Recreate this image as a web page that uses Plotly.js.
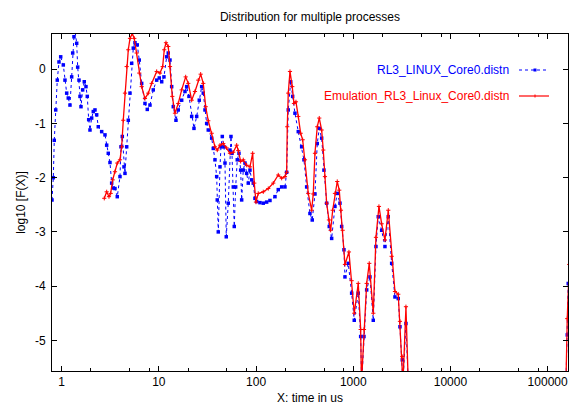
<!DOCTYPE html>
<html>
<head>
<meta charset="utf-8">
<script src="https://cdn.plot.ly/plotly-3.0.1.min.js"></script>
<style>html,body{margin:0;padding:0;background:#fff;}#chart{width:571px;height:407px;}</style>
</head>
<body>
<div id="chart"></div>
<script>
var blueName = "RL3_LINUX_Core0.distn";
var redName = "Emulation_RL3_Linux_Core0.distn";
var chartTitle = "Distribution for multiple processes";
var xTitle = "X: time in us";
var yTitle = "log10 [F(X)]";
var xTickVals = [1, 10, 100, 1000, 10000, 100000];
var xTickText = ["1", "10", "100", "1000", "10000", "100000"];
var yTickVals = [0, -1, -2, -3, -4, -5];
var yTickText = ["0", "-1", "-2", "-3", "-4", "-5"];

var blueX = [0.795,0.820,0.839,0.868,0.901,0.938,0.977,1.039,1.081,1.126,
1.169,1.217,1.267,1.298,1.338,1.370,1.427,1.461,1.507,1.543,
1.580,1.644,1.708,1.778,1.834,1.896,1.955,2.035,2.114,2.201,
2.292,2.380,2.579,2.790,2.904,3.016,3.140,3.268,3.395,3.535,
3.733,3.979,4.075,4.203,4.375,4.480,4.665,4.845,5.044,5.251,
5.453,5.677,5.995,6.286,6.653,7.194,7.598,8.099,8.759,9.493,
10.10,10.69,11.28,12.03,12.49,13.01,13.54,14.07,14.99,15.83,
17.16,18.56,19.32,20.40,21.76,22.97,24.49,26.04,27.56,28.63,
29.81,31.03,32.23,34.93,36.28,37.77,39.33,39.89,40.85,42.53,
43.55,44.92,46.76,47.88,49.37,51.76,53.89,55.18,56.51,58.27,
59.67,61.68,64.07,66.70,69.44,71.11,73.85,76.89,80.05,83.15,
86.55,90.12,93.59,97.43,101.4,109.7,118.6,128.5,139.0,156.5,
169.2,183.4,198.3,206.4,214.4,227.0,237.9,251.3,271.8,294.5,
311.0,331.6,358.4,378.5,403.6,426.2,446.9,473.1,499.4,532.5,
566.4,599.5,648.1,684.4,730.0,760.0,802.4,821.6,888.3,962.7,
1024,1126,1192,1220,1289,1374,1485,1607,1712,1808,
1960,2119,2292,2484,2685,2904,3024,3193,3246,3485,
3680,154300,159100,162900,173600];
var blueY = [-2.41,-2.0,-1.31,-0.75,-0.2,0.135,0.23,0.08,-0.2,-0.44,
-0.53,-0.66,-0.14,0.3,0.6,0.72,0.48,0.04,-0.2,-0.5,
-0.69,-0.38,-0.23,-0.32,-0.5,-0.93,-1.12,-0.9,-0.78,-0.75,
-0.84,-1.06,-1.15,-1.21,-1.40,-1.55,-1.72,-2.1,-2.19,-2.2,
-2.35,-1.98,-1.43,-1.24,-1.8,-1.92,-1.43,-0.94,-0.44,0.11,
0.39,0.49,0.45,0.17,-0.26,-0.63,-0.74,-0.66,-0.38,-0.2,
-0.16,-0.23,-0.14,0.23,0.30,0.17,-0.32,-0.69,-0.94,-0.75,
-0.57,-0.41,-0.32,-0.5,-0.87,-1.09,-0.87,-0.57,-0.32,-0.44,
-0.75,-1.0,-1.12,-1.27,-1.46,-1.67,-1.98,-2.41,-3.0,-1.8,
-1.43,-1.24,-1.43,-1.73,-3.09,-2.47,-1.49,-1.24,-1.55,-2.17,
-2.9,-2.17,-1.67,-1.55,-1.86,-2.41,-1.86,-1.73,-1.92,-2.1,
-1.86,-2.04,-2.1,-2.38,-2.44,-2.46,-2.47,-2.45,-2.42,-2.35,
-2.22,-2.17,-2.17,-1.9,-0.75,-0.23,-0.5,-0.81,-1.15,-1.43,
-1.67,-2.17,-2.66,-2.78,-2.3,-1.37,-1.09,-1.27,-1.86,-2.47,
-2.9,-3.12,-2.53,-2.29,-2.47,-2.9,-3.33,-3.83,-3.58,-4.13,
-4.63,-4.13,-4.93,-5.8,-4.93,-4.07,-3.83,-4.63,-3.27,-2.72,
-2.97,-3.27,-2.72,-3.58,-4.2,-4.23,-4.75,-5.36,-5.8,-4.69,
-5.8,-5.8,-4.9,-3.95,-3.5];

var redX = [2.744,2.904,3.066,3.192,3.347,3.535,3.733,3.979,4.142,4.302,
4.480,4.665,4.845,5.044,5.325,5.583,5.909,6.286,6.653,7.194,
7.780,8.433,9.493,10.26,10.94,11.36,11.83,12.49,13.01,13.74,
14.64,15.83,17.16,18.87,20.07,21.76,23.52,25.43,26.92,28.63,
30.31,32.23,34.93,37.77,39.89,42.53,45.98,49.84,53.89,58.27,
63.15,65.61,69.44,73.85,80.05,86.55,92.25,95.83,99.77,105.3,
118.6,133.5,150.3,169.2,183.4,198.3,206.4,209.4,214.4,223.3,
235.7,245.4,257.3,271.8,287.6,301.6,318.5,344.4,373.3,387.7,
403.6,426.2,446.9,473.1,491.3,511.4,532.5,562.3,585.5,614.0,
648.1,684.4,717.8,747.3,778.0,821.6,903.0,962.7,1024,1126,
1192,1214,1289,1374,1461,1607,1712,1838,1960,2119,
2292,2484,2685,2904,3024,3193,3246,3485,3680,154300,
159100,166800,173600];
var redY = [-2.38,-2.26,-2.35,-2.29,-2.04,-1.89,-1.73,-1.67,-1.43,-0.94,
-0.44,0.05,0.36,0.57,0.66,0.57,0.30,-0.07,-0.32,-0.54,
-0.44,-0.26,-0.04,-0.07,0.05,0.36,0.49,0.42,0.05,-0.5,
-0.81,-0.63,-0.38,-0.14,-0.26,-0.57,-0.41,-0.2,-0.09,-0.26,
-0.69,-0.95,-1.18,-1.43,-1.49,-1.4,-1.37,-1.45,-1.55,-1.53,
-1.40,-1.5,-1.70,-1.67,-1.77,-1.8,-1.55,-2.1,-2.45,-2.29,
-2.26,-2.2,-2.1,-1.95,-2.01,-1.98,-1.9,-1.06,-0.44,-0.04,
-0.32,-0.63,-0.6,-0.87,-1.18,-1.3,-1.67,-2.29,-2.6,-2.3,
-1.55,-1.06,-0.9,-1.12,-1.49,-1.98,-2.47,-2.78,-2.97,-2.6,
-2.29,-2.07,-2.23,-2.6,-2.97,-3.6,-3.37,-3.9,-4.5,-3.95,
-4.8,-5.8,-4.8,-3.95,-3.58,-4.5,-3.1,-2.53,-2.85,-3.15,
-2.6,-3.45,-4.1,-4.15,-4.65,-5.3,-5.8,-4.38,-5.8,-5.8,
-4.6,-3.6,-3.2];

var minorTicks = [];
[1, 10, 100, 1000, 10000, 100000].forEach(function (d) {
  [2, 5, 8].forEach(function (m) { minorTicks.push(d * m); });
});

var FONT = "Liberation Sans, Arial, Helvetica, sans-serif";
var L = 52, R = 568, T = 34, B = 371, W = 571, H = 407;
function px(x) { return (x - L) / (R - L); }
function py(y) { return (B - y) / (B - T); }

var traces = [
  { x: blueX, y: blueY, type: "scatter", mode: "lines+markers", name: blueName,
    line: { color: "#0000ff", width: 1, dash: "dot" },
    marker: { symbol: "square", size: 3.5, color: "#0000ff" }, cliponaxis: true },
  { x: redX, y: redY, type: "scatter", mode: "lines+markers", name: redName,
    line: { color: "#ff0000", width: 1.3 },
    marker: { symbol: "cross-thin", size: 3, color: "#ff0000", line: { color: "#ff0000", width: 1 } }, cliponaxis: true }
];

var axisCommon = {
  showline: true, linecolor: "#000", linewidth: 1, mirror: "ticks",
  ticks: "inside", ticklen: 5, tickcolor: "#000", tickwidth: 1,
  showgrid: false, zeroline: false,
  tickfont: { family: FONT, size: 12, color: "#000" }
};

var layout = {
  width: W, height: H,
  margin: { l: L, r: W - R, t: T, b: H - B, pad: 0 },
  paper_bgcolor: "#fff", plot_bgcolor: "#fff",
  showlegend: false,
  font: { family: FONT, size: 12, color: "#000" },
  title: { text: chartTitle, font: { family: FONT, size: 12, color: "#000" },
           xref: "paper", x: 0.5, xanchor: "center", yref: "container", y: 1 - 17 / H, yanchor: "middle" },
  xaxis: Object.assign({}, axisCommon, {
    type: "log", range: [Math.log10(0.795), Math.log10(162000)],
    tickmode: "array", tickvals: xTickVals, ticktext: xTickText,
    minor: { tickmode: "array", tickvals: minorTicks, ticks: "inside", ticklen: 3, tickcolor: "#000", showgrid: false },
    title: { text: xTitle, font: { family: FONT, size: 12, color: "#000" }, standoff: 5 }
  }),
  yaxis: Object.assign({}, axisCommon, {
    range: [-5.566, 0.651],
    tickmode: "array", tickvals: yTickVals, ticktext: yTickText,
    ticklabelstandoff: 3,
    title: { text: yTitle, font: { family: FONT, size: 12, color: "#000" }, standoff: 6 }
  }),
  annotations: [
    { xref: "paper", yref: "paper", x: px(511), y: py(70), xanchor: "right", yanchor: "middle",
      text: blueName, showarrow: false, font: { family: FONT, size: 12, color: "#0000ff" } },
    { xref: "paper", yref: "paper", x: px(511), y: py(96), xanchor: "right", yanchor: "middle",
      text: redName, showarrow: false, font: { family: FONT, size: 12, color: "#ff0000" } }
  ],
  shapes: [
    { type: "line", xref: "paper", yref: "paper", x0: px(519), x1: px(549), y0: py(70), y1: py(70),
      line: { color: "#0000ff", width: 1, dash: "dot" } },
    { type: "rect", xref: "paper", yref: "paper", x0: px(533.5), x1: px(536.5), y0: py(68.5), y1: py(71.5),
      fillcolor: "#0000ff", line: { width: 0 } },
    { type: "line", xref: "paper", yref: "paper", x0: px(519), x1: px(549), y0: py(96), y1: py(96),
      line: { color: "#ff0000", width: 1.2 } },
    { type: "line", xref: "paper", yref: "paper", x0: px(535), x1: px(535), y0: py(94.5), y1: py(97.5),
      line: { color: "#ff0000", width: 1 } }
  ]
};

Plotly.newPlot("chart", traces, layout, { staticPlot: true, displayModeBar: false });
</script>
</body>
</html>
